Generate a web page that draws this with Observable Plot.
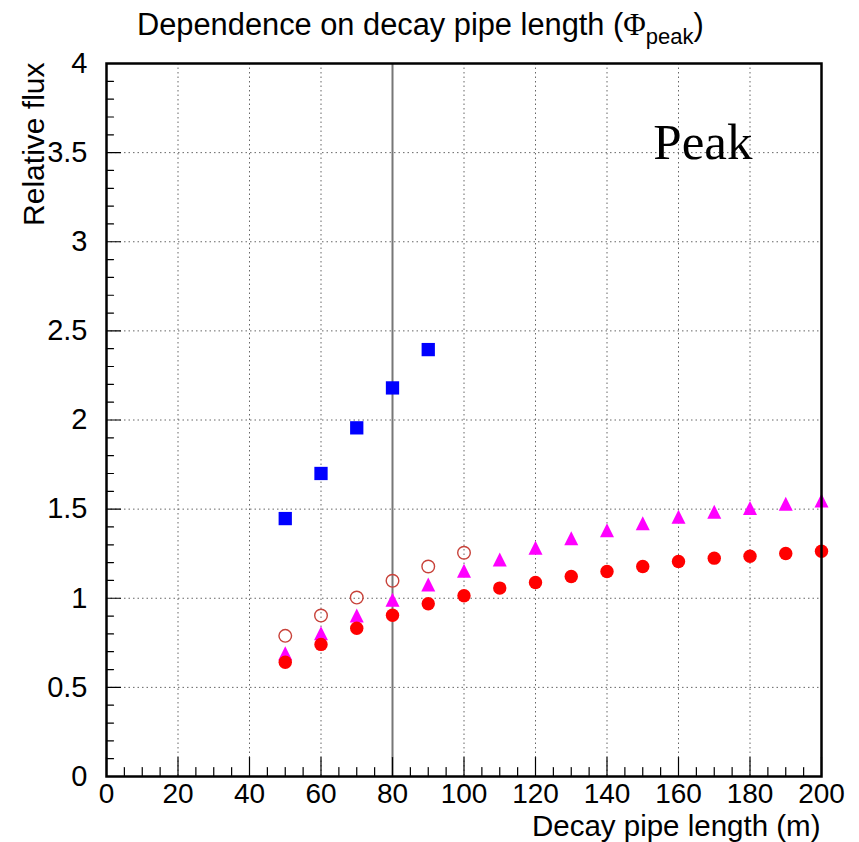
<!DOCTYPE html>
<html>
<head>
<meta charset="utf-8">
<script src="https://cdn.jsdelivr.net/npm/d3@7"></script>
<script src="https://cdn.jsdelivr.net/npm/@observablehq/plot@0.6"></script>
<style>
  html, body { margin: 0; padding: 0; background: #fff; }
  #chart svg { display: block; }
</style>
</head>
<body>
<div id="chart"></div>
<script>
// ---- data ----
const titleMain = "Dependence on decay pipe length (";
const titlePhi = "\u03A6";
const titleSub = "peak";
const titleEnd = ")";
const xLabel = "Decay pipe length (m)";
const yLabel = "Relative flux";
const panelLabel = "Peak";

const xTicks = [0, 20, 40, 60, 80, 100, 120, 140, 160, 180, 200];
const yTicks = [0, 0.5, 1, 1.5, 2, 2.5, 3, 3.5, 4];
const xMinorTicks = [5, 10, 15, 25, 30, 35, 45, 50, 55, 65, 70, 75, 85, 90, 95, 105, 110, 115, 125, 130, 135, 145, 150, 155, 165, 170, 175, 185, 190, 195];
const yMinorTicks = [0.1, 0.2, 0.3, 0.4, 0.6, 0.7, 0.8, 0.9, 1.1, 1.2, 1.3, 1.4, 1.6, 1.7, 1.8, 1.9, 2.1, 2.2, 2.3, 2.4, 2.6, 2.7, 2.8, 2.9, 3.1, 3.2, 3.3, 3.4, 3.6, 3.7, 3.8, 3.9];
const xGridDotted = [20, 40, 60, 100, 120, 140, 160, 180];
const xGridSolid = [80];
const yGrid = [0.5, 1, 1.5, 2, 2.5, 3, 3.5];

const xBlue = [50, 60, 70, 80, 90];
const blueSquares = [1.447, 1.700, 1.956, 2.180, 2.395];

const xOpen = [50, 60, 70, 80, 90, 100];
const openCircles = [0.789, 0.903, 1.004, 1.098, 1.178, 1.255];

const xLong = [50, 60, 70, 80, 90, 100, 110, 120, 130, 140, 150, 160, 170, 180, 190, 200];
const magentaTriangles = [0.692, 0.804, 0.903, 0.991, 1.077, 1.154, 1.218, 1.283, 1.337, 1.382, 1.421, 1.457, 1.485, 1.507, 1.530, 1.548];
const redCircles = [0.641, 0.741, 0.832, 0.905, 0.969, 1.014, 1.057, 1.088, 1.122, 1.150, 1.178, 1.206, 1.225, 1.236, 1.251, 1.264];

// ---- helpers ----
const pts = (xs, ys) => xs.map((x, i) => ({x, y: ys[i]}));
const triangleSym = {
  draw(context, size) {
    const r = Math.sqrt(size / Math.PI);
    context.moveTo(0, -r);
    context.lineTo(r, r);
    context.lineTo(-r, r);
    context.closePath();
  }
};
const lineUp = { draw(ctx, l) { ctx.moveTo(0, 0); ctx.lineTo(0, -l); } };

const font = "'Liberation Sans', Arial, Helvetica, sans-serif";
const serif = "'Liberation Serif', 'Times New Roman', serif";

const chart = Plot.plot({
  width: 859,
  height: 842,
  marginLeft: 106,
  marginRight: 38,
  marginTop: 63,
  marginBottom: 66,
  style: { fontFamily: font, background: "white", overflow: "visible" },
  x: { domain: [0, 200], label: null },
  y: { domain: [0, 4], label: null },
  marks: [
    Plot.gridX(xGridDotted, { stroke: "#666", strokeOpacity: 1, strokeWidth: 1, strokeDasharray: "1.5,3" }),
    Plot.gridY(yGrid, { stroke: "#666", strokeOpacity: 1, strokeWidth: 1, strokeDasharray: "1.5,3" }),
    Plot.ruleX(xGridSolid, { stroke: "#777", strokeWidth: 2 }),
    // inner ticks (ROOT style)
    Plot.vector(xTicks, { x: d => d, y: () => 0, length: 19, rotate: 0, anchor: "start", shape: lineUp, stroke: "black", strokeWidth: 1.2 }),
    Plot.vector(xMinorTicks, { x: d => d, y: () => 0, length: 9, rotate: 0, anchor: "start", shape: lineUp, stroke: "black", strokeWidth: 1.2 }),
    Plot.vector(yTicks, { x: () => 0, y: d => d, length: 14, rotate: 90, anchor: "start", shape: lineUp, stroke: "black", strokeWidth: 1.2 }),
    Plot.vector(yMinorTicks, { x: () => 0, y: d => d, length: 7, rotate: 90, anchor: "start", shape: lineUp, stroke: "black", strokeWidth: 1.2 }),
    Plot.axisX(xTicks, { tickSize: 0, tickPadding: 7, fontSize: 28, label: null, tickFormat: d => String(d) }),
    Plot.axisY(yTicks, { tickSize: 0, tickPadding: 19, fontSize: 29, label: null, tickFormat: d => String(d) }),
    // data
    Plot.dot(pts(xBlue, blueSquares), { x: "x", y: "y", symbol: "square", r: 7.5, fill: "#0000ff", stroke: "none" }),
    Plot.dot(pts(xOpen, openCircles), { x: "x", y: "y", symbol: "circle", r: 6.3, fill: "none", stroke: "#c8423a", strokeWidth: 1.4 }),
    Plot.dot(pts(xLong, magentaTriangles), { x: "x", y: "y", symbol: triangleSym, r: 7, fill: "#ff00ff", stroke: "none" }),
    Plot.dot(pts(xLong, redCircles), { x: "x", y: "y", symbol: "circle", r: 6.7, fill: "#ff0000", stroke: "none" }),
    // text annotations
    Plot.text([panelLabel], { frameAnchor: "top-right", dx: -69, dy: 95, textAnchor: "end", lineAnchor: "bottom", fontFamily: serif, fontSize: 51, fill: "black" }),
    Plot.text([xLabel], { frameAnchor: "bottom-right", dx: -1, dy: 59, textAnchor: "end", lineAnchor: "bottom", fontSize: 29.5, fill: "black" }),
    Plot.text([yLabel], { frameAnchor: "top-left", dx: -63, dy: -1, rotate: -90, textAnchor: "end", lineAnchor: "bottom", fontSize: 30, fill: "black" }),
    Plot.frame({ stroke: "black", strokeWidth: 2.5 })
  ]
});

document.getElementById("chart").appendChild(chart);

const svg = d3.select(chart);

// title with subscript
const t = svg.append("text")
  .attr("x", 137).attr("y", 35)
  .attr("text-anchor", "start")
  .attr("font-family", font).attr("font-size", 30.8).attr("fill", "black");
t.append("tspan").text(titleMain);
t.append("tspan").attr("font-family", serif).text(titlePhi);
t.append("tspan").attr("font-size", 22).attr("dy", 9).text(titleSub);
t.append("tspan").attr("dy", -9).text(titleEnd);
</script>
</body>
</html>
